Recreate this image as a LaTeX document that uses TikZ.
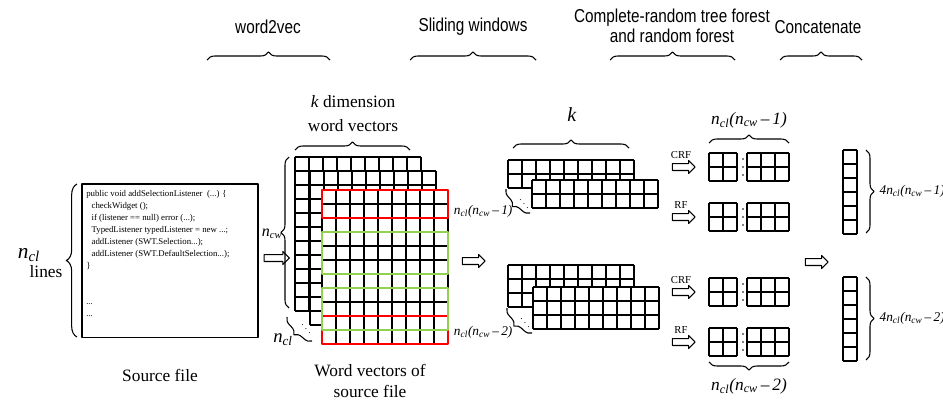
\documentclass[tikz,border=0pt]{standalone}
\usepackage{fontspec}
\setmainfont{Liberation Serif}
\newfontfamily\headfont[FakeStretch=0.82]{Liberation Sans}
\usepackage{tikz}
\usetikzlibrary{positioning,decorations.pathreplacing,shapes.arrows}
\definecolor{winred}{RGB}{255,0,0}
\definecolor{wingreen}{RGB}{146,208,80}

% block of cells: left, top, columns, rows (14px cells)
\newcommand{\cells}[4]{%
  \fill[white] (#1,#2) rectangle ++(#3*14,#4*14);
  \foreach \ci in {0,...,#3} \draw[cell] (#1+\ci*14,#2) -- ++(0,#4*14);
  \foreach \ri in {0,...,#4} \draw[cell] (#1,#2+\ri*14) -- ++(#3*14,0);
}
% vertical dots between two blocks
\newcommand{\vdotsat}[2]{%
  \foreach \di in {6,14,22} \fill (#1,#2+\di) circle (0.7pt);
}
% italic n with subscript, and window count label
\newcommand{\nsub}[1]{\textit{n\textsubscript{#1}}}
\newcommand{\nwin}[1]{\textit{\nsub{cl}(\nsub{cw}\,--\,#1)}}

\begin{document}
\begin{tikzpicture}[x=0.75pt, y=-0.75pt, line join=round]
      \tikzstyle{cell} = [line width=1.1pt, black]
      \tikzstyle{brace} = [decorate, decoration={brace, amplitude=6pt}, line width=0.8pt]
      \tikzstyle{head} = [font=\headfont\fontsize{14}{15}\selectfont, align=center]
      \tikzstyle{lbl} = [font=\fontsize{13}{16}\selectfont, align=center]
      \tikzstyle{small} = [font=\fontsize{10}{12}\selectfont, inner sep=1pt]
      \tikzstyle{tag} = [font=\fontsize{8}{9}\selectfont, inner sep=0pt]
      \tikzstyle{harrow} = [single arrow, draw, line width=0.8pt, inner sep=2.2pt, minimum height=19pt, single arrow head extend=2.3pt]
      \tikzstyle{window} = [line width=1.5pt]
      \useasboundingbox (0,0) rectangle (943,400);

      % stage headers
      \node[head] (h1) at (268,27) {word2vec};
      \node[head] (h2) at (473,27) {Sliding windows};
      \node[head] (h3) at (672,26) {Complete-random tree forest\\and random forest};
      \node[head] (h4) at (818,27) {Concatenate};
      \draw[brace] (207,60) -- (330,60);
      \draw[brace] (410,60) -- (536,60);
      \draw[brace] (610,60) -- (735,60);
      \draw[brace] (780,60) -- (862,60);

      % source file
      \node[draw, line width=1pt, minimum width=132pt, minimum height=115pt] (src) at (170,260.5) {};
      \node[anchor=north west, inner sep=0pt, align=left, font=\fontsize{6.6}{9}\selectfont] (code) at (86,190)
        {public void addSelectionListener\ \ (...) \{\\
         \hspace{4pt}checkWidget ();\\
         \hspace{4pt}if (listener == null) error (...);\\
         \hspace{4pt}TypedListener typedListener = new ...;\\
         \hspace{4pt}addListener (SWT.Selection...);\\
         \hspace{4pt}addListener (SWT.DefaultSelection...);\\
         \}\\[18pt]
         ...\\
         ...};
      \draw[brace, decoration={amplitude=8pt}] (77,337) -- (77,184);
      \node[font=\fontsize{16}{18}\selectfont] (ncl) at (29,255) {\nsub{cl}};
      \node[lbl] (lines) at (46,272) {lines};
      \node[lbl] (srccap) at (160,375) {Source file};

      % word vectors
      \cells{295}{157}{9}{11}
      \cells{310}{171}{9}{11}
      \cells{322}{190}{9}{11}
      \draw[window, winred] (322,190) rectangle ++(126,28);
      \draw[window, winred] (322,316) rectangle ++(126,28);
      \draw[window, wingreen] (322,232) rectangle ++(126,42);
      \draw[window, wingreen] (322,288) rectangle ++(126,42);
      \draw[brace] (295,150) -- (410,150);
      \node[lbl, font=\fontsize{13}{18}\selectfont] (kdim) at (353,114) {\textit{k} dimension\\word vectors};
      \draw[brace] (289,308) -- (289,157);
      \node[font=\fontsize{12}{14}\selectfont, inner sep=1pt, anchor=east] (ncw) at (284,234) {\nsub{cw}};
      \draw[brace] (312,341) -- (287,317);
      \node[font=\scriptsize] (dots1) at (306,325) {$\ddots$};
      \node[font=\fontsize{14}{16}\selectfont] (ncl2) at (283,340) {\nsub{cl}};
      \node[lbl] (wvcap) at (370,381) {Word vectors of\\source file};

      % sliding windows
      \cells{508}{160}{9}{2}
      \cells{532}{180}{9}{2}
      \draw[brace] (513,148) -- (629,148);
      \node[font=\fontsize{15}{17}\selectfont] (k) at (572,115) {\textit{k}};
      \draw[brace] (530,213) -- (506,189);
      \node[font=\scriptsize] (dots2) at (524,200) {$\ddots$};
      \node[small, anchor=east] (win1) at (514,211) {\nwin{1}};
      \cells{508}{265}{9}{3}
      \cells{533}{287}{9}{3}
      \draw[brace] (532,333) -- (507,308);
      \node[font=\scriptsize] (dots3) at (525,319) {$\ddots$};
      \node[small, anchor=east] (win2) at (514,332) {\nwin{2}};

      % forests
      \foreach \y/\t in {153/CRF, 203/RF, 278/CRF, 328/RF} {
        \cells{709}{\y}{2}{2}
        \cells{747}{\y}{3}{2}
        \vdotsat{743}{\y}
        \node[tag] at (681,\y+2) {\t};
        \node[harrow, minimum height=17pt] at (682,\y+14) {};
      }
      \draw[brace] (709,143) -- (789,143);
      \node[font=\fontsize{13}{15}\selectfont] (f1) at (749,120) {\nwin{1}};
      \draw[brace] (789,362) -- (709,362);
      \node[font=\fontsize{13}{15}\selectfont] (f2) at (749,386) {\nwin{2}};

      % concatenated vectors
      \cells{843}{150}{1}{6}
      \cells{843}{277}{1}{6}
      \draw[brace] (866,150) -- (866,233);
      \node[small, anchor=west] (c1) at (878,191) {\textit{4}\nwin{1}};
      \draw[brace] (866,277) -- (866,360);
      \node[small, anchor=west] (c2) at (878,318) {\textit{4}\nwin{2}};

      % stage arrows
      \node[harrow] (a1) at (275,258) {};
      \node[harrow, minimum height=17pt] (a2) at (472,261) {};
      \node[harrow, minimum height=17pt] (a3) at (815,262) {};
    \end{tikzpicture}
\end{document}
